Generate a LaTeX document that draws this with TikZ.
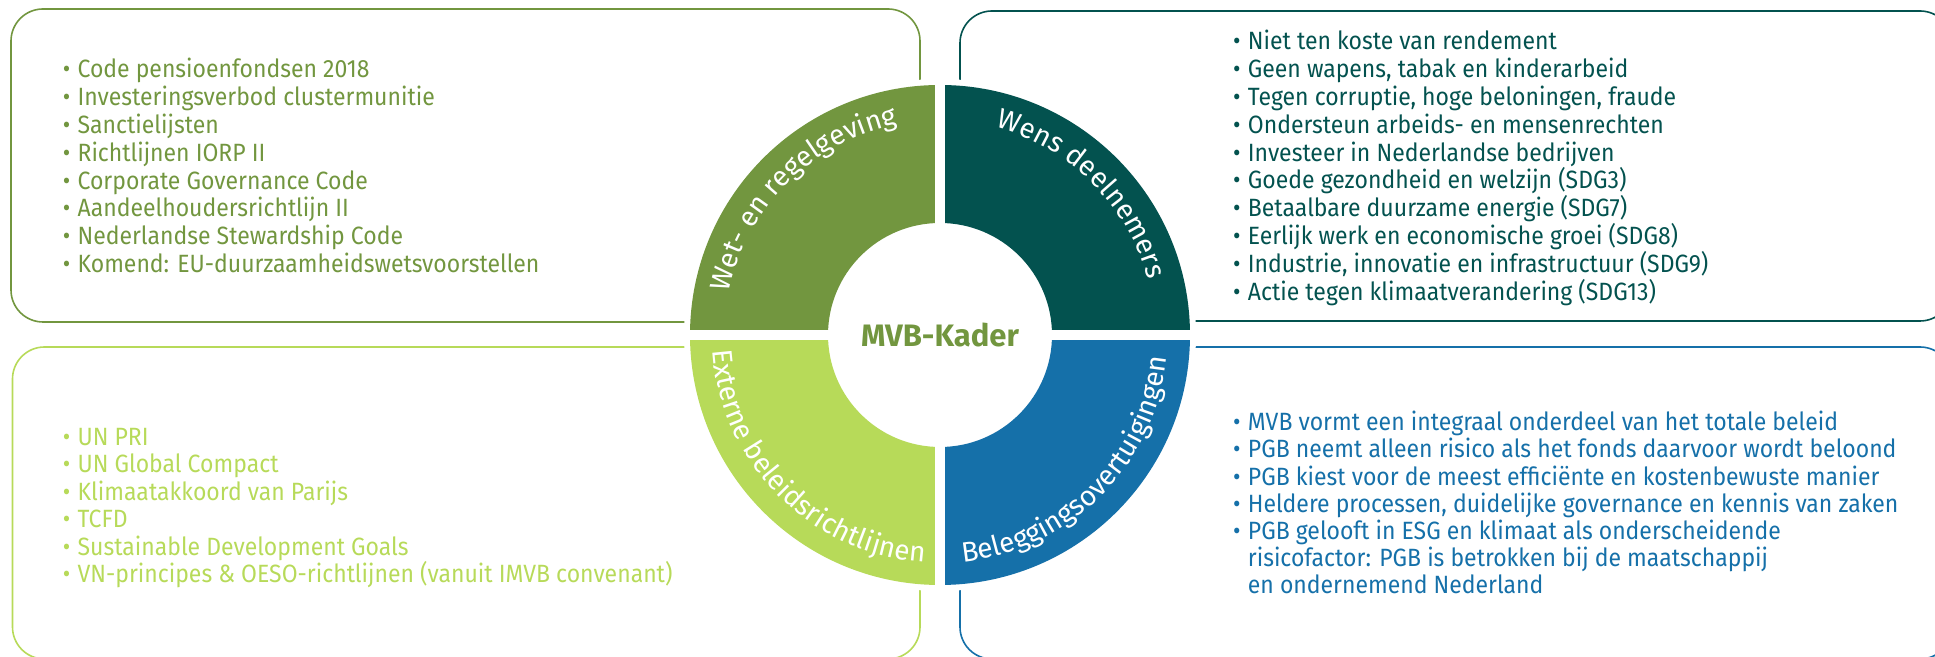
\documentclass[tikz,border=0pt]{standalone}
\usepackage{fontspec}
\setmainfont{Fira Sans}
\usetikzlibrary{decorations.text,calc}
\definecolor{cOlive}{RGB}{114,150,63}
\definecolor{cTeal}{RGB}{3,82,79}
\definecolor{cLime}{RGB}{183,218,89}
\definecolor{cBlue}{RGB}{21,112,169}
\newcommand\bodyfont{\fontsize{12.5}{14}\selectfont}
\newcommand\lblfont{\fontsize{14}{16}\selectfont\color{white}}
\newcommand\bul{\makebox[8pt][l]{•}}
\begin{document}
\begin{tikzpicture}[x=0.5pt,y=0.5pt,
  frame/.style={line width=0.8pt, rounded corners=16pt},
  item/.style={anchor=base west, inner sep=0pt, font=\bodyfont, xscale=0.92},
  arclabel/.style={decorate, decoration={text along path, text align=center, text={|\lblfont|#1}}}]
\useasboundingbox (0,0) rectangle (1935,657);
\clip (0,0) rectangle (1935,657);
% frames
\draw[frame, cOlive] (11,335) rectangle (920,648);
\draw[frame, cTeal] (960,336) rectangle (1952,646);
\draw[frame, cLime] (12.5,-2) rectangle (920,310);
\draw[frame, cBlue] (960,-2) rectangle (1952,310);
% ring
\coordinate (C) at (940,322);
\fill[white] (C) circle[radius=256];
\fill[cOlive] ($(C)+(180:250)$) arc[start angle=180,end angle=90,radius=250] -- ($(C)+(90:112)$) arc[start angle=90,end angle=180,radius=112] -- cycle;
\fill[cTeal] ($(C)+(90:250)$) arc[start angle=90,end angle=0,radius=250] -- ($(C)+(0:112)$) arc[start angle=0,end angle=90,radius=112] -- cycle;
\fill[cLime] ($(C)+(180:250)$) arc[start angle=180,end angle=270,radius=250] -- ($(C)+(270:112)$) arc[start angle=270,end angle=180,radius=112] -- cycle;
\fill[cBlue] ($(C)+(270:250)$) arc[start angle=270,end angle=360,radius=250] -- ($(C)+(0:112)$) arc[start angle=360,end angle=270,radius=112] -- cycle;
\fill[white] ($(C)+(-5,-252)$) rectangle ($(C)+(5,252)$);
\fill[white] ($(C)+(-252,-5)$) rectangle ($(C)+(252,5)$);
% ring labels
\path[arclabel={Wet- en regelgeving}] ($(C)+(180:215)$) arc[start angle=180,end angle=90,radius=215];
\path[arclabel={Wens deelnemers}] ($(C)+(90:215)$) arc[start angle=90,end angle=0,radius=215];
\path[arclabel={Externe beleidsrichtlijnen}] ($(C)+(180:228)$) arc[start angle=180,end angle=270,radius=228];
\path[arclabel={Beleggingsovertuigingen}] ($(C)+(270:228)$) arc[start angle=270,end angle=360,radius=228];
\node[font=\fontsize{15.5}{18}\selectfont\bfseries, text=cOlive] (kader) at (C) {MVB-Kader};
% lists
\foreach \t [count=\i from 0] in {{Code pensioenfondsen 2018},{Investeringsverbod clustermunitie},{Sanctielijsten},{Richtlijnen IORP II},{Corporate Governance Code},{Aandeelhoudersrichtlijn II},{Nederlandse Stewardship Code},{Komend: EU-duurzaamheidswetsvoorstellen}}
  \node[item, text=cOlive] (tl\i) at (62.5,{579-27.8*\i}) {\bul\t};
\foreach \t [count=\i from 0] in {{Niet ten koste van rendement},{Geen wapens, tabak en kinderarbeid},{Tegen corruptie, hoge beloningen, fraude},{Ondersteun arbeids- en mensenrechten},{Investeer in Nederlandse bedrijven},{Goede gezondheid en welzijn (SDG3)},{Betaalbare duurzame energie (SDG7)},{Eerlijk werk en economische groei (SDG8)},{Industrie, innovatie en infrastructuur (SDG9)},{Actie tegen klimaatverandering (SDG13)}}
  \node[item, text=cTeal] (tr\i) at (1232.8,{607-27.78*\i}) {\bul\t};
\foreach \t [count=\i from 0] in {{UN PRI},{UN Global Compact},{Klimaatakkoord van Parijs},{TCFD},{Sustainable Development Goals},{VN-principes \& OESO-richtlijnen (vanuit IMVB convenant)}}
  \node[item, text=cLime] (bl\i) at (62.5,{211.4-27.4*\i}) {\bul\t};
\foreach \t [count=\i from 0] in {{\bul MVB vormt een integraal onderdeel van het totale beleid},{\bul PGB neemt alleen risico als het fonds daarvoor wordt beloond},{\bul PGB kiest voor de meest efficiënte en kostenbewuste manier},{\bul Heldere processen, duidelijke governance en kennis van zaken},{\bul PGB gelooft in ESG en klimaat als onderscheidende},{\hspace*{8pt}risicofactor: PGB is betrokken bij de maatschappij},{\hspace*{8pt}en ondernemend Nederland}}
  \node[item, text=cBlue] (br\i) at (1232.8,{226.3-27.2*\i}) {\t};
\end{tikzpicture}
\end{document}
